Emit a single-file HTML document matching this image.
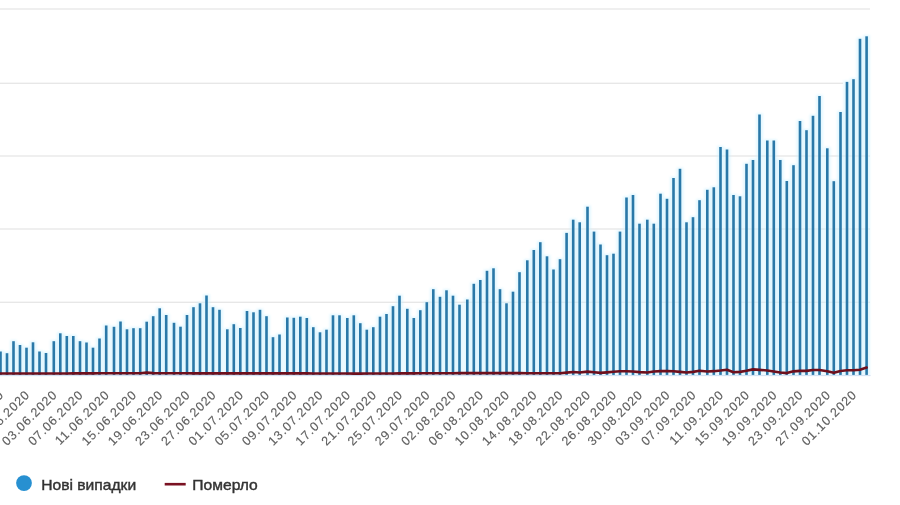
<!DOCTYPE html>
<html lang="uk"><head><meta charset="utf-8"><title>Нові випадки</title>
<style>
html,body{margin:0;padding:0;background:#fff;}
body{width:900px;height:505px;overflow:hidden;font-family:"Liberation Sans",sans-serif;}
svg{display:block}
.xl{font-size:12.5px;fill:#5e5e5e;stroke:#5e5e5e;stroke-width:0.12px;letter-spacing:0.95px;}
.lg{font-size:14.5px;fill:#333;stroke:#333;stroke-width:0.4px;}
</style></head><body>
<svg width="900" height="505" viewBox="0 0 900 505">
<rect width="900" height="505" fill="#fff"/>
<rect x="0" y="8.35" width="870" height="1.3" fill="#e6e6e6"/>
<rect x="0" y="82.65" width="843" height="1.3" fill="#e6e6e6"/>
<rect x="0" y="155.35" width="870" height="1.3" fill="#e6e6e6"/>
<rect x="0" y="228.35" width="870" height="1.3" fill="#e6e6e6"/>
<rect x="0" y="301.65" width="870" height="1.3" fill="#e6e6e6"/>
<rect x="0" y="374.9" width="870.5" height="1.2" fill="#d5def0"/>
<defs><filter id="bl" x="-2%" y="-2%" width="104%" height="104%"><feGaussianBlur stdDeviation="0.9"/></filter></defs>
<g fill="#cdf1ff" opacity="0.58" filter="url(#bl)">
<rect x="-2.85" y="350.3" width="6.7" height="24.6"/><rect x="3.65" y="352.0" width="6.7" height="22.9"/><rect x="10.15" y="340.0" width="6.7" height="34.9"/><rect x="16.65" y="343.8" width="6.7" height="31.1"/><rect x="23.15" y="346.5" width="6.7" height="28.4"/><rect x="29.65" y="341.1" width="6.7" height="33.8"/><rect x="36.15" y="350.3" width="6.7" height="24.6"/><rect x="42.65" y="351.8" width="6.7" height="23.1"/><rect x="50.45" y="340.0" width="6.7" height="34.9"/><rect x="56.95" y="332.1" width="6.7" height="42.8"/><rect x="63.45" y="334.8" width="6.7" height="40.1"/><rect x="69.95" y="334.8" width="6.7" height="40.1"/><rect x="76.65" y="340.0" width="6.7" height="34.9"/><rect x="83.15" y="341.3" width="6.7" height="33.6"/><rect x="89.65" y="346.5" width="6.7" height="28.4"/><rect x="96.15" y="337.3" width="6.7" height="37.6"/><rect x="102.85" y="324.3" width="6.7" height="50.6"/><rect x="110.65" y="325.6" width="6.7" height="49.3"/><rect x="117.15" y="320.3" width="6.7" height="54.6"/><rect x="123.65" y="328.1" width="6.7" height="46.8"/><rect x="130.15" y="327.0" width="6.7" height="47.9"/><rect x="136.85" y="327.0" width="6.7" height="47.9"/><rect x="143.35" y="320.5" width="6.7" height="54.4"/><rect x="149.85" y="315.0" width="6.7" height="59.9"/><rect x="156.35" y="307.1" width="6.7" height="67.8"/><rect x="162.85" y="313.8" width="6.7" height="61.1"/><rect x="170.65" y="321.6" width="6.7" height="53.3"/><rect x="177.15" y="325.5" width="6.7" height="49.4"/><rect x="183.65" y="313.8" width="6.7" height="61.1"/><rect x="190.15" y="306.0" width="6.7" height="68.9"/><rect x="196.65" y="302.1" width="6.7" height="72.8"/><rect x="203.15" y="294.3" width="6.7" height="80.6"/><rect x="209.65" y="306.0" width="6.7" height="68.9"/><rect x="216.15" y="308.6" width="6.7" height="66.3"/><rect x="223.95" y="328.1" width="6.7" height="46.8"/><rect x="230.45" y="323.0" width="6.7" height="51.9"/><rect x="236.95" y="326.8" width="6.7" height="48.1"/><rect x="243.65" y="309.8" width="6.7" height="65.1"/><rect x="250.15" y="311.1" width="6.7" height="63.8"/><rect x="256.65" y="308.6" width="6.7" height="66.3"/><rect x="263.15" y="315.0" width="6.7" height="59.9"/><rect x="269.65" y="336.0" width="6.7" height="38.9"/><rect x="276.15" y="333.3" width="6.7" height="41.6"/><rect x="283.95" y="316.3" width="6.7" height="58.6"/><rect x="290.45" y="316.6" width="6.7" height="58.3"/><rect x="296.95" y="315.5" width="6.7" height="59.4"/><rect x="303.45" y="316.8" width="6.7" height="58.1"/><rect x="309.95" y="326.0" width="6.7" height="48.9"/><rect x="316.65" y="331.1" width="6.7" height="43.8"/><rect x="323.15" y="328.5" width="6.7" height="46.4"/><rect x="329.65" y="314.1" width="6.7" height="60.8"/><rect x="336.15" y="314.1" width="6.7" height="60.8"/><rect x="343.95" y="316.8" width="6.7" height="58.1"/><rect x="350.45" y="314.1" width="6.7" height="60.8"/><rect x="356.95" y="322.0" width="6.7" height="52.9"/><rect x="363.45" y="328.5" width="6.7" height="46.4"/><rect x="369.95" y="326.0" width="6.7" height="48.9"/><rect x="376.65" y="315.5" width="6.7" height="59.4"/><rect x="383.15" y="312.8" width="6.7" height="62.1"/><rect x="389.65" y="305.0" width="6.7" height="69.9"/><rect x="396.15" y="294.5" width="6.7" height="80.4"/><rect x="403.95" y="307.6" width="6.7" height="67.3"/><rect x="410.45" y="316.8" width="6.7" height="58.1"/><rect x="416.95" y="309.0" width="6.7" height="65.9"/><rect x="423.45" y="301.0" width="6.7" height="73.9"/><rect x="429.95" y="288.0" width="6.7" height="86.9"/><rect x="436.65" y="295.6" width="6.7" height="79.3"/><rect x="443.15" y="289.1" width="6.7" height="85.8"/><rect x="449.65" y="294.5" width="6.7" height="80.4"/><rect x="456.15" y="303.5" width="6.7" height="71.4"/><rect x="463.95" y="298.3" width="6.7" height="76.6"/><rect x="470.45" y="282.6" width="6.7" height="92.3"/><rect x="476.95" y="278.8" width="6.7" height="96.1"/><rect x="483.65" y="269.6" width="6.7" height="105.3"/><rect x="490.15" y="267.1" width="6.7" height="107.8"/><rect x="496.65" y="288.0" width="6.7" height="86.9"/><rect x="503.15" y="302.1" width="6.7" height="72.8"/><rect x="509.65" y="290.5" width="6.7" height="84.4"/><rect x="516.15" y="271.0" width="6.7" height="103.9"/><rect x="523.95" y="259.1" width="6.7" height="115.8"/><rect x="530.45" y="248.8" width="6.7" height="126.1"/><rect x="536.95" y="241.0" width="6.7" height="133.9"/><rect x="543.65" y="255.1" width="6.7" height="119.8"/><rect x="550.15" y="268.3" width="6.7" height="106.6"/><rect x="556.65" y="258.0" width="6.7" height="116.9"/><rect x="563.25" y="231.7" width="6.7" height="143.2"/><rect x="569.85" y="218.5" width="6.7" height="156.4"/><rect x="576.35" y="221.1" width="6.7" height="153.8"/><rect x="584.15" y="205.5" width="6.7" height="169.4"/><rect x="590.65" y="230.4" width="6.7" height="144.5"/><rect x="597.15" y="243.3" width="6.7" height="131.6"/><rect x="603.65" y="254.0" width="6.7" height="120.9"/><rect x="610.15" y="252.5" width="6.7" height="122.4"/><rect x="616.65" y="230.4" width="6.7" height="144.5"/><rect x="623.15" y="196.3" width="6.7" height="178.6"/><rect x="629.65" y="193.8" width="6.7" height="181.1"/><rect x="636.15" y="222.5" width="6.7" height="152.4"/><rect x="643.95" y="218.5" width="6.7" height="156.4"/><rect x="650.45" y="222.5" width="6.7" height="152.4"/><rect x="657.15" y="192.5" width="6.7" height="182.4"/><rect x="663.65" y="197.6" width="6.7" height="177.3"/><rect x="670.15" y="176.8" width="6.7" height="198.1"/><rect x="676.65" y="167.6" width="6.7" height="207.3"/><rect x="683.15" y="221.1" width="6.7" height="153.8"/><rect x="689.65" y="216.0" width="6.7" height="158.9"/><rect x="696.15" y="199.0" width="6.7" height="175.9"/><rect x="703.95" y="188.6" width="6.7" height="186.3"/><rect x="710.45" y="186.1" width="6.7" height="188.8"/><rect x="717.15" y="145.8" width="6.7" height="229.1"/><rect x="723.65" y="148.3" width="6.7" height="226.6"/><rect x="730.15" y="193.8" width="6.7" height="181.1"/><rect x="736.65" y="195.1" width="6.7" height="179.8"/><rect x="743.15" y="162.6" width="6.7" height="212.3"/><rect x="749.65" y="158.8" width="6.7" height="216.1"/><rect x="756.15" y="113.3" width="6.7" height="261.6"/><rect x="763.95" y="139.3" width="6.7" height="235.6"/><rect x="770.45" y="139.3" width="6.7" height="235.6"/><rect x="776.95" y="158.8" width="6.7" height="216.1"/><rect x="783.45" y="179.8" width="6.7" height="195.1"/><rect x="790.15" y="164.0" width="6.7" height="210.9"/><rect x="796.65" y="119.8" width="6.7" height="255.1"/><rect x="803.15" y="129.0" width="6.7" height="245.9"/><rect x="809.65" y="114.6" width="6.7" height="260.3"/><rect x="816.15" y="94.8" width="6.7" height="280.1"/><rect x="823.95" y="147.1" width="6.7" height="227.8"/><rect x="830.45" y="180.0" width="6.7" height="194.9"/><rect x="837.15" y="110.8" width="6.7" height="264.1"/><rect x="843.65" y="80.7" width="6.7" height="294.2"/><rect x="850.15" y="78.0" width="6.7" height="296.9"/><rect x="856.65" y="37.6" width="6.7" height="337.3"/><rect x="863.25" y="35.1" width="6.7" height="339.8"/>
</g>
<g fill="#2a78a8">
<rect x="-0.80" y="351.5" width="2.6" height="23.4"/><rect x="5.70" y="353.2" width="2.6" height="21.7"/><rect x="12.20" y="341.2" width="2.6" height="33.7"/><rect x="18.70" y="345.0" width="2.6" height="29.9"/><rect x="25.20" y="347.7" width="2.6" height="27.2"/><rect x="31.70" y="342.3" width="2.6" height="32.6"/><rect x="38.20" y="351.5" width="2.6" height="23.4"/><rect x="44.70" y="353.0" width="2.6" height="21.9"/><rect x="52.50" y="341.2" width="2.6" height="33.7"/><rect x="59.00" y="333.3" width="2.6" height="41.6"/><rect x="65.50" y="336.0" width="2.6" height="38.9"/><rect x="72.00" y="336.0" width="2.6" height="38.9"/><rect x="78.70" y="341.2" width="2.6" height="33.7"/><rect x="85.20" y="342.5" width="2.6" height="32.4"/><rect x="91.70" y="347.7" width="2.6" height="27.2"/><rect x="98.20" y="338.5" width="2.6" height="36.4"/><rect x="104.90" y="325.5" width="2.6" height="49.4"/><rect x="112.70" y="326.8" width="2.6" height="48.1"/><rect x="119.20" y="321.5" width="2.6" height="53.4"/><rect x="125.70" y="329.3" width="2.6" height="45.6"/><rect x="132.20" y="328.2" width="2.6" height="46.7"/><rect x="138.90" y="328.2" width="2.6" height="46.7"/><rect x="145.40" y="321.7" width="2.6" height="53.2"/><rect x="151.90" y="316.2" width="2.6" height="58.7"/><rect x="158.40" y="308.3" width="2.6" height="66.6"/><rect x="164.90" y="315.0" width="2.6" height="59.9"/><rect x="172.70" y="322.8" width="2.6" height="52.1"/><rect x="179.20" y="326.7" width="2.6" height="48.2"/><rect x="185.70" y="315.0" width="2.6" height="59.9"/><rect x="192.20" y="307.2" width="2.6" height="67.7"/><rect x="198.70" y="303.3" width="2.6" height="71.6"/><rect x="205.20" y="295.5" width="2.6" height="79.4"/><rect x="211.70" y="307.2" width="2.6" height="67.7"/><rect x="218.20" y="309.8" width="2.6" height="65.1"/><rect x="226.00" y="329.3" width="2.6" height="45.6"/><rect x="232.50" y="324.2" width="2.6" height="50.7"/><rect x="239.00" y="328.0" width="2.6" height="46.9"/><rect x="245.70" y="311.0" width="2.6" height="63.9"/><rect x="252.20" y="312.3" width="2.6" height="62.6"/><rect x="258.70" y="309.8" width="2.6" height="65.1"/><rect x="265.20" y="316.2" width="2.6" height="58.7"/><rect x="271.70" y="337.2" width="2.6" height="37.7"/><rect x="278.20" y="334.5" width="2.6" height="40.4"/><rect x="286.00" y="317.5" width="2.6" height="57.4"/><rect x="292.50" y="317.8" width="2.6" height="57.1"/><rect x="299.00" y="316.7" width="2.6" height="58.2"/><rect x="305.50" y="318.0" width="2.6" height="56.9"/><rect x="312.00" y="327.2" width="2.6" height="47.7"/><rect x="318.70" y="332.3" width="2.6" height="42.6"/><rect x="325.20" y="329.7" width="2.6" height="45.2"/><rect x="331.70" y="315.3" width="2.6" height="59.6"/><rect x="338.20" y="315.3" width="2.6" height="59.6"/><rect x="346.00" y="318.0" width="2.6" height="56.9"/><rect x="352.50" y="315.3" width="2.6" height="59.6"/><rect x="359.00" y="323.2" width="2.6" height="51.7"/><rect x="365.50" y="329.7" width="2.6" height="45.2"/><rect x="372.00" y="327.2" width="2.6" height="47.7"/><rect x="378.70" y="316.7" width="2.6" height="58.2"/><rect x="385.20" y="314.0" width="2.6" height="60.9"/><rect x="391.70" y="306.2" width="2.6" height="68.7"/><rect x="398.20" y="295.7" width="2.6" height="79.2"/><rect x="406.00" y="308.8" width="2.6" height="66.1"/><rect x="412.50" y="318.0" width="2.6" height="56.9"/><rect x="419.00" y="310.2" width="2.6" height="64.7"/><rect x="425.50" y="302.2" width="2.6" height="72.7"/><rect x="432.00" y="289.2" width="2.6" height="85.7"/><rect x="438.70" y="296.8" width="2.6" height="78.1"/><rect x="445.20" y="290.3" width="2.6" height="84.6"/><rect x="451.70" y="295.7" width="2.6" height="79.2"/><rect x="458.20" y="304.7" width="2.6" height="70.2"/><rect x="466.00" y="299.5" width="2.6" height="75.4"/><rect x="472.50" y="283.8" width="2.6" height="91.1"/><rect x="479.00" y="280.0" width="2.6" height="94.9"/><rect x="485.70" y="270.8" width="2.6" height="104.1"/><rect x="492.20" y="268.3" width="2.6" height="106.6"/><rect x="498.70" y="289.2" width="2.6" height="85.7"/><rect x="505.20" y="303.3" width="2.6" height="71.6"/><rect x="511.70" y="291.7" width="2.6" height="83.2"/><rect x="518.20" y="272.2" width="2.6" height="102.7"/><rect x="526.00" y="260.3" width="2.6" height="114.6"/><rect x="532.50" y="250.0" width="2.6" height="124.9"/><rect x="539.00" y="242.2" width="2.6" height="132.7"/><rect x="545.70" y="256.3" width="2.6" height="118.6"/><rect x="552.20" y="269.5" width="2.6" height="105.4"/><rect x="558.70" y="259.2" width="2.6" height="115.7"/><rect x="565.30" y="232.9" width="2.6" height="142.0"/><rect x="571.90" y="219.7" width="2.6" height="155.2"/><rect x="578.40" y="222.3" width="2.6" height="152.6"/><rect x="586.20" y="206.7" width="2.6" height="168.2"/><rect x="592.70" y="231.6" width="2.6" height="143.3"/><rect x="599.20" y="244.5" width="2.6" height="130.4"/><rect x="605.70" y="255.2" width="2.6" height="119.7"/><rect x="612.20" y="253.7" width="2.6" height="121.2"/><rect x="618.70" y="231.6" width="2.6" height="143.3"/><rect x="625.20" y="197.5" width="2.6" height="177.4"/><rect x="631.70" y="195.0" width="2.6" height="179.9"/><rect x="638.20" y="223.7" width="2.6" height="151.2"/><rect x="646.00" y="219.7" width="2.6" height="155.2"/><rect x="652.50" y="223.7" width="2.6" height="151.2"/><rect x="659.20" y="193.7" width="2.6" height="181.2"/><rect x="665.70" y="198.8" width="2.6" height="176.1"/><rect x="672.20" y="178.0" width="2.6" height="196.9"/><rect x="678.70" y="168.8" width="2.6" height="206.1"/><rect x="685.20" y="222.3" width="2.6" height="152.6"/><rect x="691.70" y="217.2" width="2.6" height="157.7"/><rect x="698.20" y="200.2" width="2.6" height="174.7"/><rect x="706.00" y="189.8" width="2.6" height="185.1"/><rect x="712.50" y="187.3" width="2.6" height="187.6"/><rect x="719.20" y="147.0" width="2.6" height="227.9"/><rect x="725.70" y="149.5" width="2.6" height="225.4"/><rect x="732.20" y="195.0" width="2.6" height="179.9"/><rect x="738.70" y="196.3" width="2.6" height="178.6"/><rect x="745.20" y="163.8" width="2.6" height="211.1"/><rect x="751.70" y="160.0" width="2.6" height="214.9"/><rect x="758.20" y="114.5" width="2.6" height="260.4"/><rect x="766.00" y="140.5" width="2.6" height="234.4"/><rect x="772.50" y="140.5" width="2.6" height="234.4"/><rect x="779.00" y="160.0" width="2.6" height="214.9"/><rect x="785.50" y="181.0" width="2.6" height="193.9"/><rect x="792.20" y="165.2" width="2.6" height="209.7"/><rect x="798.70" y="121.0" width="2.6" height="253.9"/><rect x="805.20" y="130.2" width="2.6" height="244.7"/><rect x="811.70" y="115.8" width="2.6" height="259.1"/><rect x="818.20" y="96.0" width="2.6" height="278.9"/><rect x="826.00" y="148.3" width="2.6" height="226.6"/><rect x="832.50" y="181.2" width="2.6" height="193.7"/><rect x="839.20" y="112.0" width="2.6" height="262.9"/><rect x="845.70" y="81.9" width="2.6" height="293.0"/><rect x="852.20" y="79.2" width="2.6" height="295.7"/><rect x="858.70" y="38.8" width="2.6" height="336.1"/><rect x="865.30" y="36.3" width="2.6" height="338.6"/>
</g>
<path d="M0.5,373.50 L7.0,373.50 L13.5,373.50 L20.0,373.50 L26.5,373.50 L33.0,373.50 L39.5,373.50 L46.0,373.50 L53.8,373.48 L60.3,373.46 L66.8,373.43 L73.3,373.41 L80.0,373.38 L86.5,373.35 L93.0,373.33 L99.5,373.30 L106.2,373.30 L114.0,373.30 L120.5,373.30 L127.0,373.30 L133.5,373.30 L140.2,373.28 L146.7,372.63 L153.2,373.14 L159.7,373.30 L166.2,373.31 L174.0,373.31 L180.5,373.32 L187.0,373.32 L193.5,373.33 L200.0,373.33 L206.5,373.34 L213.0,373.34 L219.5,373.34 L227.3,373.35 L233.8,373.35 L240.3,373.36 L247.0,373.36 L253.5,373.37 L260.0,373.37 L266.5,373.38 L273.0,373.38 L279.5,373.39 L287.3,373.39 L293.8,373.40 L300.3,373.40 L306.8,373.42 L313.3,373.44 L320.0,373.47 L326.5,373.49 L333.0,373.51 L339.5,373.53 L347.3,373.56 L353.8,373.58 L360.3,373.60 L366.8,373.57 L373.3,373.53 L380.0,373.50 L386.5,373.47 L393.0,373.44 L399.5,373.40 L407.3,373.36 L413.8,373.33 L420.3,373.30 L426.8,373.27 L433.3,373.23 L440.0,373.20 L446.5,373.19 L453.0,373.18 L459.5,373.17 L467.3,373.15 L473.8,373.14 L480.3,373.13 L487.0,373.12 L493.5,373.11 L500.0,373.10 L506.5,373.12 L513.0,373.14 L519.5,373.17 L527.3,373.19 L533.8,373.21 L540.3,373.23 L547.0,373.26 L553.5,373.28 L560.0,373.30 L566.6,372.64 L573.2,371.98 L579.7,372.57 L587.5,371.65 L594.0,372.30 L600.5,372.86 L607.0,372.34 L613.5,371.82 L620.0,371.30 L626.5,371.30 L633.0,371.56 L639.5,372.13 L647.3,372.49 L653.8,371.45 L660.5,371.10 L667.0,371.10 L673.5,371.25 L680.0,371.90 L686.5,372.55 L693.0,371.87 L699.5,370.78 L707.3,371.54 L713.8,371.17 L720.5,370.58 L727.0,369.70 L733.5,372.30 L740.0,371.90 L746.5,370.71 L753.0,369.37 L759.5,369.84 L767.3,370.49 L773.8,371.42 L780.3,372.42 L786.8,373.09 L793.5,371.35 L800.0,370.88 L806.5,370.88 L813.0,369.94 L819.5,369.97 L827.3,371.26 L833.8,372.85 L840.5,370.96 L847.0,370.30 L853.5,370.26 L860.0,369.68 L866.6,367.50" fill="none" stroke="#6e0f1c" stroke-width="2.6" stroke-linejoin="round" stroke-linecap="round"/>
<g class="xl" text-anchor="end">
<text x="4.7" y="395.3" transform="rotate(-45 4.7 395.3)">26.05.2020</text>
<text x="30.7" y="395.3" transform="rotate(-45 30.7 395.3)">30.05.2020</text>
<text x="58.0" y="395.3" transform="rotate(-45 58.0 395.3)">03.06.2020</text>
<text x="84.2" y="395.3" transform="rotate(-45 84.2 395.3)">07.06.2020</text>
<text x="110.4" y="395.3" transform="rotate(-45 110.4 395.3)">11.06.2020</text>
<text x="137.7" y="395.3" transform="rotate(-45 137.7 395.3)">15.06.2020</text>
<text x="163.9" y="395.3" transform="rotate(-45 163.9 395.3)">19.06.2020</text>
<text x="191.2" y="395.3" transform="rotate(-45 191.2 395.3)">23.06.2020</text>
<text x="217.2" y="395.3" transform="rotate(-45 217.2 395.3)">27.06.2020</text>
<text x="244.5" y="395.3" transform="rotate(-45 244.5 395.3)">01.07.2020</text>
<text x="270.7" y="395.3" transform="rotate(-45 270.7 395.3)">05.07.2020</text>
<text x="298.0" y="395.3" transform="rotate(-45 298.0 395.3)">09.07.2020</text>
<text x="324.2" y="395.3" transform="rotate(-45 324.2 395.3)">13.07.2020</text>
<text x="351.5" y="395.3" transform="rotate(-45 351.5 395.3)">17.07.2020</text>
<text x="377.5" y="395.3" transform="rotate(-45 377.5 395.3)">21.07.2020</text>
<text x="403.7" y="395.3" transform="rotate(-45 403.7 395.3)">25.07.2020</text>
<text x="431.0" y="395.3" transform="rotate(-45 431.0 395.3)">29.07.2020</text>
<text x="457.2" y="395.3" transform="rotate(-45 457.2 395.3)">02.08.2020</text>
<text x="484.5" y="395.3" transform="rotate(-45 484.5 395.3)">06.08.2020</text>
<text x="510.7" y="395.3" transform="rotate(-45 510.7 395.3)">10.08.2020</text>
<text x="538.0" y="395.3" transform="rotate(-45 538.0 395.3)">14.08.2020</text>
<text x="564.2" y="395.3" transform="rotate(-45 564.2 395.3)">18.08.2020</text>
<text x="591.7" y="395.3" transform="rotate(-45 591.7 395.3)">22.08.2020</text>
<text x="617.7" y="395.3" transform="rotate(-45 617.7 395.3)">26.08.2020</text>
<text x="643.7" y="395.3" transform="rotate(-45 643.7 395.3)">30.08.2020</text>
<text x="671.2" y="395.3" transform="rotate(-45 671.2 395.3)">03.09.2020</text>
<text x="697.2" y="395.3" transform="rotate(-45 697.2 395.3)">07.09.2020</text>
<text x="724.7" y="395.3" transform="rotate(-45 724.7 395.3)">11.09.2020</text>
<text x="750.7" y="395.3" transform="rotate(-45 750.7 395.3)">15.09.2020</text>
<text x="778.0" y="395.3" transform="rotate(-45 778.0 395.3)">19.09.2020</text>
<text x="804.2" y="395.3" transform="rotate(-45 804.2 395.3)">23.09.2020</text>
<text x="831.5" y="395.3" transform="rotate(-45 831.5 395.3)">27.09.2020</text>
<text x="857.7" y="395.3" transform="rotate(-45 857.7 395.3)">01.10.2020</text>
</g>
<circle cx="24.0" cy="483.1" r="7.9" fill="#2790d1"/>
<text class="lg" x="41.2" y="489.7" textLength="95" lengthAdjust="spacingAndGlyphs">Нові випадки</text>
<rect x="164.7" y="482.9" width="21" height="2.6" fill="#7a1222"/>
<text class="lg" x="192.3" y="489.7" textLength="65.5" lengthAdjust="spacingAndGlyphs">Померло</text>
</svg></body></html>
